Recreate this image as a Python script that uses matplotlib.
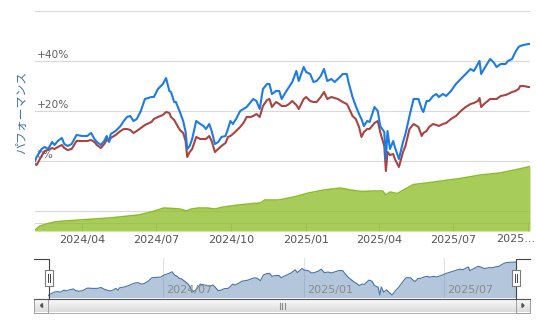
import matplotlib
matplotlib.use("Agg")
import matplotlib.pyplot as plt
import matplotlib.dates as mdates
from matplotlib.patches import Rectangle, Polygon
import numpy as np
import pandas as pd

# ---------------- data ----------------
dates = ["2024-02-03", "2024-02-05", "2024-02-09", "2024-02-11", "2024-02-15", "2024-02-19",
         "2024-02-24", "2024-02-27", "2024-03-02", "2024-03-07", "2024-03-10", "2024-03-14",
         "2024-03-19", "2024-03-25", "2024-04-01", "2024-04-07", "2024-04-12", "2024-04-16",
         "2024-04-19", "2024-04-24", "2024-04-28", "2024-05-01", "2024-05-04", "2024-05-06",
         "2024-05-12", "2024-05-18", "2024-05-22", "2024-05-26", "2024-05-30", "2024-06-03",
         "2024-06-07", "2024-06-12", "2024-06-17", "2024-06-25", "2024-06-28", "2024-07-03",
         "2024-07-09", "2024-07-13", "2024-07-17", "2024-07-19", "2024-07-23", "2024-07-25",
         "2024-07-30", "2024-08-03", "2024-08-06", "2024-08-08", "2024-08-11", "2024-08-14",
         "2024-08-19", "2024-08-24", "2024-08-28", "2024-08-31", "2024-09-04", "2024-09-07",
         "2024-09-11", "2024-09-15", "2024-09-19", "2024-09-24", "2024-09-27", "2024-09-30",
         "2024-10-03", "2024-10-07", "2024-10-12", "2024-10-16", "2024-10-20", "2024-10-25",
         "2024-10-28", "2024-11-01", "2024-11-05", "2024-11-09", "2024-11-14", "2024-11-17",
         "2024-11-20", "2024-11-25", "2024-11-29", "2024-12-02", "2024-12-07", "2024-12-11",
         "2024-12-15", "2024-12-20", "2024-12-23", "2024-12-29", "2025-01-01", "2025-01-06",
         "2025-01-10", "2025-01-14", "2025-01-19", "2025-01-23", "2025-01-27", "2025-02-01",
         "2025-02-05", "2025-02-09", "2025-02-15", "2025-02-20", "2025-02-22", "2025-02-27",
         "2025-03-03", "2025-03-07", "2025-03-10", "2025-03-13", "2025-03-17", "2025-03-20",
         "2025-03-26", "2025-03-30", "2025-04-02", "2025-04-07", "2025-04-09", "2025-04-11",
         "2025-04-14", "2025-04-18", "2025-04-20", "2025-04-25", "2025-04-30", "2025-05-03",
         "2025-05-08", "2025-05-13", "2025-05-19", "2025-05-23", "2025-05-25", "2025-05-29",
         "2025-06-01", "2025-06-06", "2025-06-10", "2025-06-13", "2025-06-18", "2025-06-22",
         "2025-06-28", "2025-07-04", "2025-07-10", "2025-07-16", "2025-07-22", "2025-07-26",
         "2025-07-31", "2025-08-02", "2025-08-04", "2025-08-09", "2025-08-15", "2025-08-19",
         "2025-08-23", "2025-08-28", "2025-09-03", "2025-09-06", "2025-09-11", "2025-09-15",
         "2025-09-19", "2025-09-21", "2025-09-25", "2025-10-01", "2025-10-03"]

blue = [0.0, 1.6, 3.6, 4.8, 5.6, 4.8, 7.6, 6.4, 8.0, 9.2, 6.8, 6.0,
        6.8, 10.4, 10.0, 10.0, 11.2, 8.8, 7.6, 6.4, 8.0, 10.0, 7.6, 10.8,
        12.0, 14.0, 16.0, 17.6, 18.0, 16.0, 16.8, 20.0, 24.8, 25.6, 25.6, 28.8,
        30.8, 33.2, 28.0, 27.6, 23.6, 23.6, 19.6, 16.0, 11.6, 4.8, 6.0, 8.8,
        16.0, 14.8, 14.0, 12.8, 14.8, 12.0, 6.8, 7.6, 9.6, 10.0, 12.8, 16.0,
        14.8, 16.8, 20.0, 20.8, 21.6, 23.6, 24.8, 24.0, 20.8, 28.8, 30.8, 30.8,
        26.8, 28.0, 28.0, 24.8, 27.6, 29.6, 31.6, 36.0, 32.0, 37.6, 35.6, 34.8,
        31.6, 32.0, 34.0, 36.8, 32.0, 32.8, 31.6, 32.8, 34.8, 34.8, 31.6, 25.6,
        22.0, 18.8, 16.8, 14.0, 16.0, 15.6, 21.6, 20.0, 14.0, 11.6, 0.8, 12.0,
        4.8, 8.0, 5.6, 0.8, 7.6, 10.8, 18.0, 24.8, 24.8, 20.8, 19.6, 24.0,
        24.0, 26.0, 26.8, 25.6, 26.8, 26.0, 28.0, 30.8, 32.8, 34.8, 36.8, 36.0,
        38.8, 40.0, 34.8, 37.6, 40.8, 39.6, 37.6, 38.8, 38.8, 40.0, 40.8, 43.6,
        45.6, 46.0, 46.4, 46.8, 46.8]

red = [-1.2, -1.6, 0.8, 2.0, 4.0, 4.4, 5.2, 4.8, 5.6, 6.4, 5.2, 4.4,
       4.8, 8.0, 8.0, 8.0, 8.4, 7.6, 6.4, 5.2, 6.8, 8.4, 8.0, 9.2,
       10.4, 12.0, 12.8, 12.8, 12.4, 11.2, 12.0, 13.2, 14.4, 15.6, 16.8, 17.6,
       18.4, 19.6, 19.2, 17.6, 16.4, 15.2, 12.4, 11.2, 8.0, 1.6, 3.6, 4.8,
       9.6, 8.8, 8.8, 8.8, 10.0, 8.0, 3.6, 4.8, 6.0, 7.2, 9.6, 10.0,
       10.8, 12.0, 13.6, 15.2, 17.6, 17.6, 18.0, 18.8, 17.6, 22.0, 24.4, 24.8,
       21.6, 23.6, 22.8, 22.0, 22.0, 22.8, 24.0, 22.4, 20.8, 24.8, 25.6, 24.0,
       23.6, 23.6, 25.6, 27.6, 24.8, 25.6, 25.2, 24.8, 23.6, 22.8, 21.6, 18.0,
       16.8, 13.6, 9.6, 11.6, 12.8, 12.8, 15.2, 16.0, 11.6, 6.0, -4.0, 3.6,
       2.4, 2.8, 0.8, -2.4, 3.6, 6.0, 12.8, 14.8, 13.6, 10.0, 11.2, 12.0,
       13.6, 14.8, 14.4, 14.0, 14.8, 15.2, 16.8, 18.0, 20.0, 21.6, 22.8, 23.2,
       24.0, 25.2, 21.6, 23.2, 24.8, 24.8, 24.8, 26.0, 26.4, 26.8, 27.6, 28.0,
       28.8, 30.0, 30.0, 29.6, 29.6]

green_dates = ["2024-02-03", "2024-02-09", "2024-02-19", "2024-02-27", "2024-03-10", "2024-03-28",
               "2024-04-16", "2024-05-04", "2024-05-22", "2024-06-09", "2024-06-27", "2024-07-10",
               "2024-07-22", "2024-07-30", "2024-08-07", "2024-08-13", "2024-08-21", "2024-09-02",
               "2024-09-11", "2024-09-21", "2024-10-10", "2024-10-28", "2024-11-06", "2024-11-11",
               "2024-11-28", "2024-12-17", "2025-01-04", "2025-01-23", "2025-02-12", "2025-02-25",
               "2025-03-10", "2025-03-25", "2025-04-05", "2025-04-09", "2025-04-14", "2025-04-23",
               "2025-05-05", "2025-05-13", "2025-05-29", "2025-06-16", "2025-07-09", "2025-08-03",
               "2025-08-27", "2025-09-14", "2025-10-03"]
green = [0.4, 2.0, 3.0, 3.6, 4.0, 4.4, 4.8, 5.2, 5.8, 6.4, 7.8, 9.2,
         9.0, 8.8, 8.0, 8.8, 9.2, 9.2, 8.8, 9.6, 10.4, 11.0, 11.2, 12.4,
         12.4, 13.6, 15.2, 16.4, 17.2, 16.4, 15.8, 16.0, 16.0, 14.4, 15.6, 15.0,
         17.2, 18.6, 19.2, 20.0, 21.0, 22.4, 23.2, 24.4, 25.8]

x_tick_dates = ["2024-04-01", "2024-07-01", "2024-10-01", "2025-01-01",
                "2025-04-01", "2025-07-01", "2025-10-01"]
x_tick_labels = ["2024/04", "2024/07", "2024/10", "2025/01", "2025/04", "2025/07", "2025..."]
nav_tick_dates = ["2024-07-01", "2025-01-01", "2025-07-01"]
nav_tick_labels = ["2024/07", "2025/01", "2025/07"]
y_grid = [-20, 0, 20, 40, 60]
y_label_values = [0, 20, 40]
y_labels = ["0%", "+20%", "+40%"]
y_title = "パフォーマンス"

# ---------------- figure ----------------
W, H = 536, 322
fig = plt.figure(figsize=(W / 100, H / 100), dpi=100, facecolor="white")


def px_axes(l, t, r, b, **kw):
    return fig.add_axes([l / W, 1 - b / H, (r - l) / W, (b - t) / H], **kw)


d = pd.to_datetime(dates)
gd = pd.to_datetime(green_dates)
xmin, xmax = pd.Timestamp("2024-02-03"), pd.Timestamp("2025-10-03")
GRID = "#d8d8d8"

# main pane
ax = px_axes(35, 11, 530, 231)
ax.set_facecolor("none")
ax.set_xlim(xmin, xmax)
ax.set_ylim(-28, 60)
for s in ax.spines.values():
    s.set_visible(False)
ax.set_yticks(y_grid)
ax.set_yticklabels([])
ax.tick_params(axis="y", length=0)
ax.yaxis.grid(True, color=GRID, lw=0.8)
ax.set_axisbelow(True)
ax.set_xticks(pd.to_datetime(x_tick_dates))
ax.set_xticklabels(x_tick_labels[:-1] + [""])
ax.tick_params(axis="x", direction="in", length=5.8, width=0.72, color="#c0d0e0",
               pad=3, labelsize=8, labelcolor="#555555")
ax.annotate(x_tick_labels[-1], xy=(1, 0), xycoords="axes fraction", xytext=(3.8, -2.2),
            textcoords="offset points", ha="right", va="top", fontsize=8, color="#555555")

ax.plot(d, red, color="#a94442", lw=1.5, solid_joinstyle="round", zorder=3)
ax.plot(d, blue, color="#1e7be2", lw=1.5, solid_joinstyle="round", zorder=4)

for v, lab in zip(y_label_values, y_labels):
    ax.annotate(lab, xy=(0, v), xycoords=("axes fraction", "data"), xytext=(1.0, 4.4),
                textcoords="offset points", ha="left", va="center", fontsize=7.6,
                color="#606060", zorder=2)

# secondary (green area) axis
ax2 = ax.twinx()
ax2.set_ylim(0, 88)
ax2.set_xlim(xmin, xmax)
for s in ax2.spines.values():
    s.set_visible(False)
ax2.set_yticks([])
ax2.axhline(3.2, color=GRID, lw=0.8, zorder=0.5)
ax2.fill_between(gd, 0, green, color="#8bbc21", alpha=0.75, lw=0, zorder=1)
ax2.plot(gd, green, color="#8bbc21", lw=1.1, zorder=2)

fig.text(22 / W, 1 - 112 / H, y_title, rotation=90, ha="center", va="center",
         color="#4572a7", fontsize=8.6, family=["Noto Sans CJK JP", "DejaVu Sans"])

# navigator
nav = px_axes(48, 258, 516, 298)
nav.set_facecolor("none")
nav.set_xlim(xmin, xmax)
nav.set_ylim(-3.4, 52.4)
for s in nav.spines.values():
    s.set_visible(False)
nav.set_xticks([])
nav.set_yticks([])
for td, tl in zip(pd.to_datetime(nav_tick_dates), nav_tick_labels):
    nav.axvline(td, color="#e2e2e2", lw=0.8, zorder=0)
    nav.annotate(tl, xy=(td, 0), xycoords=("data", "axes fraction"), xytext=(2.2, 5.8),
                 textcoords="offset points", ha="left", va="center", fontsize=8,
                 color="#8a8a8a", zorder=3)
nav.fill_between(d, -3.4, blue, color="#4572a7", alpha=0.4, lw=0, zorder=1)
nav.plot(d, blue, color="#4572a7", lw=0.8, zorder=2)

# chrome overlay (pixel coordinates)
ov = fig.add_axes([0, 0, 1, 1])
ov.set_xlim(0, W)
ov.set_ylim(H, 0)
ov.axis("off")
ov.patch.set_visible(False)

grad = np.linspace(0, 1, 32).reshape(-1, 1)
top_c = np.array([0.99, 0.99, 0.99])
bot_c = np.array([0.86, 0.86, 0.86])
img = top_c + (bot_c - top_c) * grad[..., None]
img = img.reshape(32, 1, 3)
ov.imshow(img, extent=(34, 530, 312.5, 298.5), aspect="auto", zorder=1, interpolation="bilinear")
ov.add_patch(Rectangle((34, 298.5), 496, 14, fill=False, ec="#b0b0b0", lw=0.72, zorder=2))
ov.plot([34, 530], [298.5, 298.5], color="#555555", lw=0.8, zorder=3)
for bx in (34, 516):
    ov.add_patch(Rectangle((bx, 298.5), 14, 14, fill=False, ec="#a0a0a0", lw=0.72, zorder=2))
ov.add_patch(Polygon([(40.5, 305.5), (42.5, 303.5), (42.5, 307.5)], closed=True,
                     color="#555555", zorder=4))
ov.add_patch(Polygon([(524, 305.5), (522, 303.5), (522, 307.5)], closed=True,
                     color="#555555", zorder=4))
for gx in (279.5, 282, 284.5):
    ov.plot([gx, gx], [302.5, 308.5], color="#8a8a8a", lw=0.8, zorder=4)

# navigator outline
ov.plot([34, 48.5, 48.5], [258.5, 258.5, 298.5], color="#444444", lw=0.8, zorder=5)
ov.plot([515.5, 515.5, 530], [298.5, 258.5, 258.5], color="#444444", lw=0.8, zorder=5)
for hx in (48.5, 515.5):
    ov.add_patch(Rectangle((hx - 4, 270), 8, 16, fc="white", ec="#7a7a7a", lw=0.8, zorder=6))
    for lx in (hx - 1, hx + 1):
        ov.plot([lx, lx], [274, 282], color="#444444", lw=0.7, zorder=7)

fig.savefig("out.png", dpi=100, facecolor="white")
